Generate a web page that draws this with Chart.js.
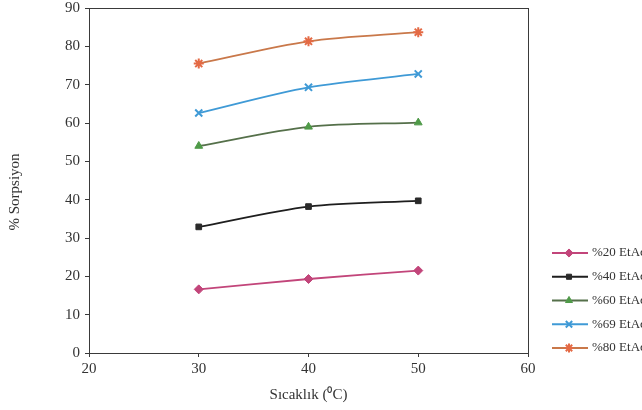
<!DOCTYPE html>
<html>
<head>
<meta charset="utf-8">
<script src="https://cdn.jsdelivr.net/npm/chart.js@4.4.1/dist/chart.umd.min.js"></script>
<style>
  html, body { margin: 0; padding: 0; background: #fff; overflow: hidden; }
  #wrap { width: 642px; height: 410px; position: relative; }
</style>
</head>
<body>
<div id="wrap"><canvas id="chart"></canvas></div>
<script>
// Sorpsiyon (%) - sıcaklık verileri
const temps = [30, 40, 50];
const xTicks = [20, 30, 40, 50, 60];
const yTicks = [0, 10, 20, 30, 40, 50, 60, 70, 80, 90];

const etac20 = [16.6, 19.3, 21.5];
const etac40 = [32.9, 38.2, 39.7];
const etac60 = [54.0, 59.0, 60.1];
const etac69 = [62.6, 69.3, 72.8];
const etac80 = [75.5, 81.3, 83.7];

const seriesNames = ['%20 EtAc', '%40 EtAc', '%60 EtAc', '%69 EtAc', '%80 EtAc'];
const yTitle = '% Sorpsiyon';
const xTitle = 'Sıcaklık (⁰C)';

const FONT = 'Liberation Serif';
const INK = '#333';

function makeSeries(label, values, line, fill, style, radius) {
  return {
    label: label,
    data: temps.map((t, i) => ({ x: t, y: values[i] })),
    borderColor: line,
    backgroundColor: fill,
    pointBorderColor: fill,
    pointBackgroundColor: fill,
    pointStyle: style,
    pointRadius: radius,
    pointBorderWidth: style === 'crossRot' || style === 'star' ? 2 : 1,
    borderWidth: 1.8,
    tension: 0.3,
    fill: false
  };
}

const datasets = [
  makeSeries(seriesNames[0], etac20, '#c2457a', '#c2457a', 'rectRot', 4.5),
  makeSeries(seriesNames[1], etac40, '#1e1e1e', '#2a2a2a', 'rect', 4),
  makeSeries(seriesNames[2], etac60, '#55704a', '#4f9a48', 'triangle', 4.5),
  makeSeries(seriesNames[3], etac69, '#3f9ad6', '#3f9ad6', 'crossRot', 5),
  makeSeries(seriesNames[4], etac80, '#c9784a', '#e46a45', 'star', 5)
];

// çerçeve, y başlığı ve sağdaki açıklama kutusu
const framePlugin = {
  id: 'frame',
  afterDraw(chart) {
    const { ctx, chartArea: a } = chart;
    ctx.save();
    ctx.strokeStyle = '#3a3a3a';
    ctx.lineWidth = 1;
    ctx.strokeRect(a.left + 0.5, a.top + 0.5, a.right - a.left, a.bottom - a.top);

    // y ekseni başlığı
    ctx.save();
    ctx.translate(15, 192);
    ctx.rotate(-Math.PI / 2);
    ctx.font = '15px "' + FONT + '"';
    ctx.fillStyle = INK;
    ctx.textAlign = 'center';
    ctx.textBaseline = 'middle';
    ctx.fillText(yTitle, 0, 0);
    ctx.restore();

    // legend
    const x0 = 552, y0 = 253, step = 23.75;
    ctx.font = '13px "' + FONT + '"';
    ctx.textBaseline = 'middle';
    ctx.textAlign = 'left';
    chart.data.datasets.forEach((ds, i) => {
      const y = y0 + i * step;
      ctx.strokeStyle = ds.borderColor;
      ctx.lineWidth = 1.8;
      ctx.beginPath();
      ctx.moveTo(x0, y);
      ctx.lineTo(x0 + 36, y);
      ctx.stroke();
      ctx.fillStyle = ds.pointBackgroundColor;
      ctx.strokeStyle = ds.pointBorderColor;
      ctx.lineWidth = ds.pointBorderWidth;
      Chart.helpers.drawPoint(ctx, {
        pointStyle: ds.pointStyle,
        radius: ds.pointRadius * 0.9,
        borderWidth: ds.pointBorderWidth,
        rotation: 0
      }, x0 + 17, y);
      ctx.fillStyle = INK;
      ctx.fillText(ds.label, x0 + 40, y);
    });
    ctx.restore();
  }
};

new Chart(document.getElementById('chart'), {
  type: 'line',
  data: { datasets: datasets },
  options: {
    responsive: true,
    maintainAspectRatio: false,
    animation: false,
    layout: { padding: { top: 8, right: 114, bottom: 0, left: 0 } },
    plugins: {
      legend: { display: false },
      tooltip: { enabled: false }
    },
    scales: {
      x: {
        type: 'linear',
        min: 20,
        max: 60,
        afterBuildTicks(axis) { axis.ticks = xTicks.map(v => ({ value: v })); },
        afterFit(axis) { axis.height = 57; },
        grid: { drawOnChartArea: false, color: '#3a3a3a', tickLength: 4 },
        border: { color: '#3a3a3a' },
        ticks: { color: INK, font: { family: FONT, size: 15 }, padding: 3 },
        title: {
          display: true,
          text: xTitle,
          color: INK,
          font: { family: FONT, size: 15 },
          padding: { top: 0, bottom: 6 }
        }
      },
      y: {
        min: 0,
        max: 90,
        afterBuildTicks(axis) { axis.ticks = yTicks.map(v => ({ value: v })); },
        afterFit(axis) {
          axis.width = 89;
          axis.paddingTop = 0;
          axis.paddingBottom = 0;
        },
        grid: { drawOnChartArea: false, color: '#3a3a3a', tickLength: 4 },
        border: { color: '#3a3a3a' },
        ticks: { color: INK, font: { family: FONT, size: 15 }, padding: 5 }
      }
    }
  },
  plugins: [framePlugin]
});
</script>
</body>
</html>
